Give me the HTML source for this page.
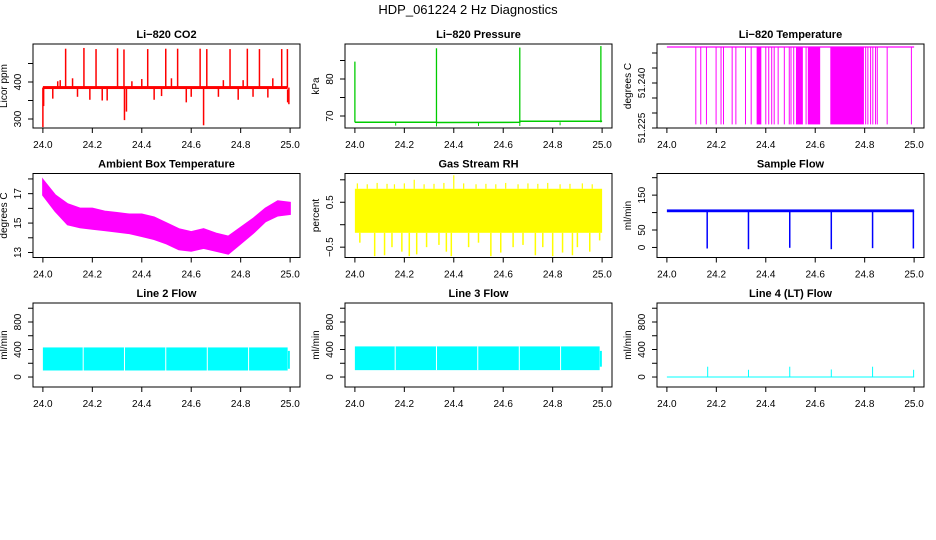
<!DOCTYPE html>
<html><head><meta charset="utf-8"><style>
html,body{margin:0;padding:0;background:#fff;}
svg{display:block;font-family:"Liberation Sans",Arial,sans-serif;}
</style></head>
<body>
<svg id="fig" width="936" height="540" viewBox="0 0 936 540">
<text x="468" y="14" font-size="13" text-anchor="middle">HDP_061224  2 Hz Diagnostics</text>
</svg>
<script>
// ---------- data ----------
const xTicks = [24.0, 24.2, 24.4, 24.6, 24.8, 25.0];
const xTickLabels = ["24.0", "24.2", "24.4", "24.6", "24.8", "25.0"];

// CO2
const co2Base = 385;
const co2BandLo = 381, co2BandHi = 389;
const co2SpikeT = [24.0, 24.003, 24.092, 24.166, 24.215, 24.302, 24.328, 24.424, 24.497, 24.545, 24.636, 24.663, 24.757, 24.827, 24.876, 24.966, 24.989, 24.33, 24.338, 24.650, 24.995, 24.04, 24.07, 24.12, 24.19, 24.26, 24.36, 24.45, 24.52, 24.58, 24.71, 24.79, 24.85, 24.93, 24.06, 24.14, 24.24, 24.4, 24.48, 24.6, 24.73, 24.81, 24.91];
const co2SpikeV = [278, 335, 490, 492, 489, 491, 488, 489, 490, 490, 490, 489, 489, 490, 489, 489, 489, 297, 320, 283, 340, 355, 405, 410, 352, 350, 402, 352, 410, 345, 360, 352, 360, 410, 402, 360, 350, 408, 362, 360, 405, 405, 358];

// Pressure
const presT = [24.0, 24.33, 24.667, 24.995];
const presV = [84.7, 88.3, 88.5, 88.9];
const presBaseT = [24.0, 24.33, 24.331, 24.667, 24.668, 25.0];
const presBaseV = [68.3, 68.3, 68.25, 68.3, 68.6, 68.6];
const presDipT = [24.165, 24.5, 24.83, 24.33, 24.667];
const presDipV = [67.4, 67.3, 67.5, 67.2, 67.3];

// Li-820 temperature
const tempHigh = 51.2520, tempLow = 51.2262;
const tempDropT = [24.117, 24.137, 24.160, 24.199, 24.219, 24.229, 24.264, 24.279, 24.318, 24.341, 24.400, 24.412, 24.424, 24.434, 24.450, 24.475, 24.495, 24.502, 24.513, 24.563, 24.804, 24.813, 24.824, 24.833, 24.844, 24.851, 24.891, 24.989];
const tempDenseStart = [24.363, 24.522, 24.570, 24.661];
const tempDenseEnd = [24.382, 24.550, 24.620, 24.797];

// Ambient box temperature (envelope every 0.05)
const ambT = [24.0, 24.05, 24.1, 24.15, 24.2, 24.25, 24.3, 24.35, 24.4, 24.45, 24.5, 24.55, 24.6, 24.65, 24.7, 24.75, 24.8, 24.85, 24.9, 24.95, 25.0];
const ambUpper = [17.95, 16.9, 16.3, 16.0, 16.0, 15.8, 15.7, 15.6, 15.6, 15.4, 15.0, 14.6, 14.4, 14.6, 14.3, 14.1, 14.7, 15.3, 16.0, 16.5, 16.4];
const ambLower = [16.9, 15.8, 14.9, 14.7, 14.6, 14.5, 14.4, 14.3, 14.1, 13.9, 13.6, 13.2, 13.1, 13.3, 13.1, 12.9, 13.6, 14.3, 15.1, 15.5, 15.6];

// Gas stream RH
const rhLo = -0.18, rhHi = 0.80;
const rhUpT = [24.01, 24.05, 24.09, 24.13, 24.16, 24.2, 24.24, 24.28, 24.32, 24.36, 24.4, 24.44, 24.49, 24.53, 24.57, 24.61, 24.66, 24.7, 24.74, 24.78, 24.83, 24.87, 24.92, 24.96];
const rhUpV = [0.92, 0.9, 0.93, 0.91, 0.9, 0.92, 1.0, 0.9, 0.91, 0.93, 1.1, 0.92, 0.9, 0.91, 0.9, 0.93, 0.9, 0.92, 0.91, 0.93, 0.9, 0.91, 0.92, 0.9];
const rhDnT = [24.02, 24.08, 24.12, 24.15, 24.19, 24.22, 24.25, 24.29, 24.34, 24.37, 24.39, 24.46, 24.5, 24.55, 24.59, 24.64, 24.68, 24.73, 24.76, 24.8, 24.84, 24.88, 24.9, 24.95, 24.99];
const rhDnV = [-0.4, -0.7, -0.68, -0.5, -0.6, -0.7, -0.66, -0.5, -0.45, -0.6, -0.7, -0.5, -0.4, -0.7, -0.62, -0.5, -0.45, -0.68, -0.5, -0.7, -0.62, -0.68, -0.5, -0.6, -0.35];

// Sample flow
const sfBase = 105, sfBandLo = 101, sfBandHi = 109;
const sfDropT = [24.163, 24.33, 24.497, 24.665, 24.832, 24.997];
const sfDropV = [-3, -5, -1, -5, -2, -3];

// Line flows
const l2Lo = 95, l2Hi = 430;
const l3Lo = 100, l3Hi = 445;
const flowGapT = [24.163, 24.33, 24.497, 24.665, 24.832];
const flowEndT = 24.99;
const l4SpikeT = [24.165, 24.33, 24.497, 24.665, 24.832, 24.998];
const l4SpikeV = [150, 105, 150, 110, 150, 105];

// ---------- drawing ----------
const NS = "http://www.w3.org/2000/svg";
const svg = document.getElementById("fig");
function el(tag, attrs, parent) {
  const e = document.createElementNS(NS, tag);
  for (const k in attrs) e.setAttribute(k, attrs[k]);
  (parent || svg).appendChild(e);
  return e;
}
const colL = [33, 345, 657], colW = 267;
const rowT = [44, 173.5, 303], rowH = 84;

function panel(c, r, name, title, ylab, ylim, yticks, ylabels) {
  const x0 = colL[c], y0 = rowT[r], w = colW, h = rowH;
  const g = el("g", {});
  
  
  const sx = v => x0 + (v - 23.96) / 1.08 * w;
  const sy = v => y0 + h - (v - ylim[0]) / (ylim[1] - ylim[0]) * h;
  const t = el("text", {x: x0 + w / 2, y: y0 - 6, "font-size": 11, "font-weight": "bold", "text-anchor": "middle"}, g);
  t.textContent = title;
  
  
  const plot = el("g", {}, g);
  
  
  const ax = el("g", {stroke: "#000", "stroke-width": 1, fill: "none"}, g);
  
  
  el("rect", {x: x0, y: y0, width: w, height: h}, ax);
  const yb = y0 + h;
  xTicks.forEach((v, i) => {
    el("line", {x1: sx(v), x2: sx(v), y1: yb, y2: yb + 5}, ax);
    const tx = el("text", {x: sx(v), y: yb + 20, "font-size": 10, "text-anchor": "middle"}, g);
    tx.textContent = xTickLabels[i];
    
    
  });
  yticks.forEach((v, i) => {
    el("line", {x1: x0, x2: x0 - 5, y1: sy(v), y2: sy(v)}, ax);
    if (ylabels[i]) {
      const ty = el("text", {x: 0, y: 0, "font-size": 10, "text-anchor": "middle", transform: `translate(${x0 - 12},${sy(v)}) rotate(-90)`}, g);
      ty.textContent = ylabels[i];
      
      
    }
  });
  const yl = el("text", {x: 0, y: 0, "font-size": 10, "text-anchor": "middle", transform: `translate(${x0 - 26},${y0 + h / 2}) rotate(-90)`}, g);
  yl.textContent = ylab;
  
  
  return {sx, sy, plot};
}
function vline(p, x, a, b, col, sw) {
  const l = el("line", {x1: p.sx(x), x2: p.sx(x), y1: p.sy(a), y2: p.sy(b), stroke: col, "stroke-width": sw || 1}, p.plot);
  
  
}
function band(p, xa, xb, lo, hi, col) {
  const r = el("rect", {x: p.sx(xa), y: p.sy(hi), width: p.sx(xb) - p.sx(xa), height: p.sy(lo) - p.sy(hi), fill: col}, p.plot);
  
  
}

// CO2
let p = panel(0, 0, "co2", "Li\u2212820 CO2", "Licor ppm", [275.7, 502.7], [300, 350, 400, 450], ["300", "", "400", ""]);
band(p, 24.0, 24.99, co2BandLo, co2BandHi, "#f00");
co2SpikeT.forEach((t, i) => vline(p, t, co2Base, co2SpikeV[i], "#f00", 1.5));
vline(p, 24.99, 380, 345, "#f00", 1.5);

// Pressure
p = panel(1, 0, "pressure", "Li\u2212820 Pressure", "kPa", [66.76, 89.46], [70, 75, 80, 85], ["70", "", "80", ""]);
{
  const pts = presBaseT.map((t, i) => p.sx(t) + "," + p.sy(presBaseV[i])).join(" ");
  const pl = el("polyline", {points: pts, fill: "none", stroke: "#0c0", "stroke-width": 1.5}, p.plot);
  
  
}
presT.forEach((t, i) => vline(p, t, 68.3, presV[i], "#0c0", 1.3));
presDipT.forEach((t, i) => vline(p, t, 68.3, presDipV[i], "#0c0", 1));

// Li-820 temperature
p = panel(2, 0, "li820-temperature", "Li\u2212820 Temperature", "degrees C", [51.225, 51.253], [51.225, 51.230, 51.235, 51.240, 51.245, 51.250], ["51.225", "", "", "51.240", "", ""]);
{
  const l = el("line", {x1: p.sx(24.0), x2: p.sx(25.0), y1: p.sy(tempHigh), y2: p.sy(tempHigh), stroke: "#f0f", "stroke-width": 1.3}, p.plot);
  
  
}
tempDropT.forEach(t => vline(p, t, tempHigh, tempLow, "#f0f", 1));
tempDenseStart.forEach((s, i) => band(p, s, tempDenseEnd[i], tempLow, tempHigh, "#f0f"));

// Ambient
p = panel(0, 1, "ambient-temperature", "Ambient Box Temperature", "degrees C", [12.66, 18.37], [13, 14, 15, 16, 17, 18], ["13", "", "15", "", "17", ""]);
{
  const up = ambT.map((t, i) => p.sx(t) + "," + p.sy(ambUpper[i]));
  const lo = ambT.map((t, i) => p.sx(t) + "," + p.sy(ambLower[i])).reverse();
  const pg = el("polygon", {points: up.concat(lo).join(" "), fill: "#f0f", stroke: "#f0f", "stroke-width": 1.5}, p.plot);
  
  
}

// RH
p = panel(1, 1, "gas-rh", "Gas Stream RH", "percent", [-0.73, 1.14], [-0.5, 0, 0.5, 1.0], ["\u22120.5", "", "0.5", ""]);
band(p, 24.0, 25.0, rhLo, rhHi, "#ff0");
rhUpT.forEach((t, i) => vline(p, t, rhHi, rhUpV[i], "#ff0", 1.2));
rhDnT.forEach((t, i) => vline(p, t, rhLo, rhDnV[i], "#ff0", 1.5));

// Sample flow
p = panel(2, 1, "sample-flow", "Sample Flow", "ml/min", [-28.8, 212], [0, 50, 100, 150, 200], ["0", "50", "", "150", ""]);
band(p, 24.0, 25.0, sfBandLo, sfBandHi, "#00f");
sfDropT.forEach((t, i) => vline(p, t, sfBase, sfDropV[i], "#00f", 1.5));

// Line 2
p = panel(0, 2, "line2-flow", "Line 2 Flow", "ml/min", [-145, 1076], [0, 200, 400, 600, 800, 1000], ["0", "", "400", "", "800", ""]);
band(p, 24.0, flowEndT, l2Lo, l2Hi, "#0ff");
flowGapT.forEach(t => vline(p, t, l2Lo, l2Hi, "#fff", 1));
vline(p, 24.995, 120, 380, "#0ff", 2);

// Line 3
p = panel(1, 2, "line3-flow", "Line 3 Flow", "ml/min", [-145, 1076], [0, 200, 400, 600, 800, 1000], ["0", "", "400", "", "800", ""]);
band(p, 24.0, flowEndT, l3Lo, l3Hi, "#0ff");
flowGapT.forEach(t => vline(p, t, l3Lo, l3Hi, "#fff", 1));
vline(p, 24.995, 150, 380, "#0ff", 2);

// Line 4
p = panel(2, 2, "line4-flow", "Line 4 (LT) Flow", "ml/min", [-145, 1076], [0, 200, 400, 600, 800, 1000], ["0", "", "400", "", "800", ""]);
{
  const l = el("line", {x1: p.sx(24.0), x2: p.sx(25.0), y1: p.sy(0), y2: p.sy(0), stroke: "#0ff", "stroke-width": 1}, p.plot);
  
  
}
l4SpikeT.forEach((t, i) => vline(p, t, 0, l4SpikeV[i], "#0ff", 1));
</script>
</body></html>
